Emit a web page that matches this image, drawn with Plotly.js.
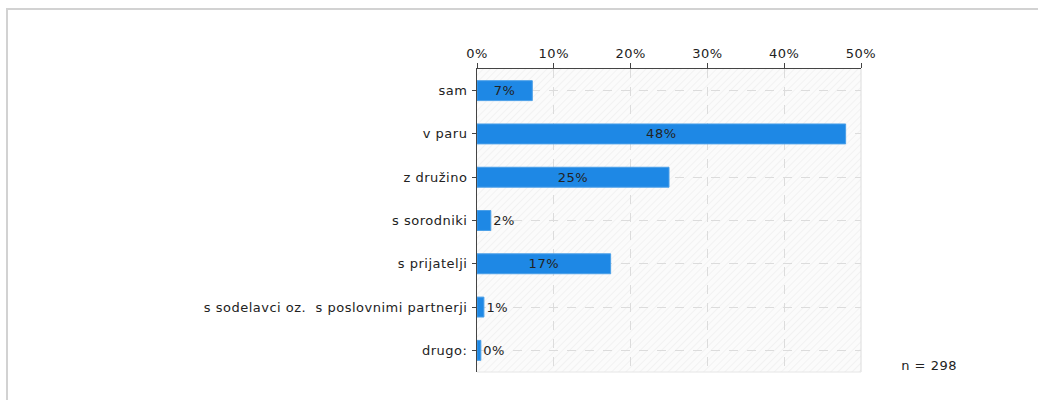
<!DOCTYPE html>
<html>
<head>
<meta charset="utf-8">
<script src="https://cdn.plot.ly/plotly-3.0.1.min.js"></script>
<style>
html,body{margin:0;padding:0;background:#fff;}
#chart{width:1038px;height:400px;}
#chart .main-svg text{letter-spacing:0.5px;}
</style>
</head>
<body>
<div id="chart"></div>
<script>
const categories = ["sam", "v paru", "z družino", "s sorodniki", "s prijatelji", "s sodelavci oz.  s poslovnimi partnerji", "drugo:"];
const values = [7.2, 48.0, 25.0, 1.8, 17.4, 0.9, 0.5];
const valueLabels = ["7%", "48%", "25%", "2%", "17%", "1%", "0%"];
const xTickVals = [0, 10, 20, 30, 40, 50];
const xTickText = ["0%", "10%", "20%", "30%", "40%", "50%"];
const sampleNote = "n = 298";

const font = "DejaVu Sans, Verdana, sans-serif";
const fs = 13;

const trace = {
  type: "bar",
  orientation: "h",
  y: categories,
  x: values,
  text: valueLabels,
  textposition: "auto",
  insidetextanchor: "middle",
  textangle: 0,
  constraintext: "none",
  insidetextfont: {family: font, size: fs, color: "#222"},
  outsidetextfont: {family: font, size: fs, color: "#222"},
  marker: {color: "#1e88e5", line: {color: "#4a9fe8", width: 1}},
  width: 0.46,
  cliponaxis: false,
  hoverinfo: "none"
};

const layout = {
  width: 1038, height: 400,
  margin: {l: 477, r: 177, t: 69, b: 28, pad: 0},
  paper_bgcolor: "#ffffff",
  plot_bgcolor: "#fafafa",
  font: {family: font, size: fs, color: "#222"},
  showlegend: false,
  xaxis: {
    side: "top",
    range: [0, 50],
    tickvals: xTickVals,
    ticktext: xTickText,
    ticks: "outside", ticklen: 5, tickcolor: "#444", tickwidth: 1,
    showline: true, linecolor: "#444", linewidth: 1,
    showgrid: true, gridcolor: "#dcdcdc", griddash: "dash", gridwidth: 1,
    zeroline: false,
    tickfont: {family: font, size: fs, color: "#222"},
    fixedrange: true
  },
  yaxis: {
    autorange: "reversed",
    type: "category",
    ticks: "outside", ticklen: 4, tickcolor: "#444", tickwidth: 1,
    showline: true, linecolor: "#444", linewidth: 1,
    showgrid: true, gridcolor: "#dcdcdc", griddash: "dash", gridwidth: 1,
    tickfont: {family: font, size: fs, color: "#222"},
    ticklabelstandoff: 2,
    fixedrange: true
  },
  shapes: [
    {type: "line", xref: "paper", yref: "paper", x0: 1, x1: 1, y0: 0, y1: 1, line: {color: "#dcdcdc", width: 1}},
    {type: "line", xref: "paper", yref: "paper", x0: 0, x1: 1, y0: 0, y1: 0, line: {color: "#e6e6e6", width: 1}}
  ],
  annotations: [
    {xref: "paper", yref: "paper", x: 1.103, y: 0.02, xanchor: "left", yanchor: "middle",
     text: sampleNote, showarrow: false, font: {family: font, size: fs, color: "#222"}}
  ]
};

Plotly.newPlot("chart", [trace], layout, {displayModeBar: false, staticPlot: true}).then(function(gd){
  const svg = gd.querySelector(".main-svg");
  const ns = "http://www.w3.org/2000/svg";
  // diagonal hatch pattern for the plot background
  let defs = svg.querySelector("defs");
  if (!defs) { defs = document.createElementNS(ns, "defs"); svg.insertBefore(defs, svg.firstChild); }
  const pat = document.createElementNS(ns, "pattern");
  pat.setAttribute("id", "hatchbg");
  pat.setAttribute("patternUnits", "userSpaceOnUse");
  pat.setAttribute("width", "5");
  pat.setAttribute("height", "5");
  pat.setAttribute("patternTransform", "rotate(45)");
  const r = document.createElementNS(ns, "rect");
  r.setAttribute("width", "5"); r.setAttribute("height", "5"); r.setAttribute("fill", "#fbfbfb");
  const l = document.createElementNS(ns, "line");
  l.setAttribute("x1", "0"); l.setAttribute("y1", "0"); l.setAttribute("x2", "0"); l.setAttribute("y2", "5");
  l.setAttribute("stroke", "#ececec"); l.setAttribute("stroke-width", "1.2");
  pat.appendChild(r); pat.appendChild(l);
  defs.appendChild(pat);
  const bg = svg.querySelector(".bglayer .bg");
  if (bg) bg.style.fill = "url(#hatchbg)";
  // outer frame (top and left light-grey border)
  const frame = document.createElementNS(ns, "path");
  frame.setAttribute("d", "M7,400 L7,9 L1038,9");
  frame.setAttribute("fill", "none");
  frame.setAttribute("stroke", "#d2d2d2");
  frame.setAttribute("stroke-width", "2");
  svg.appendChild(frame);
});
</script>
</body>
</html>
